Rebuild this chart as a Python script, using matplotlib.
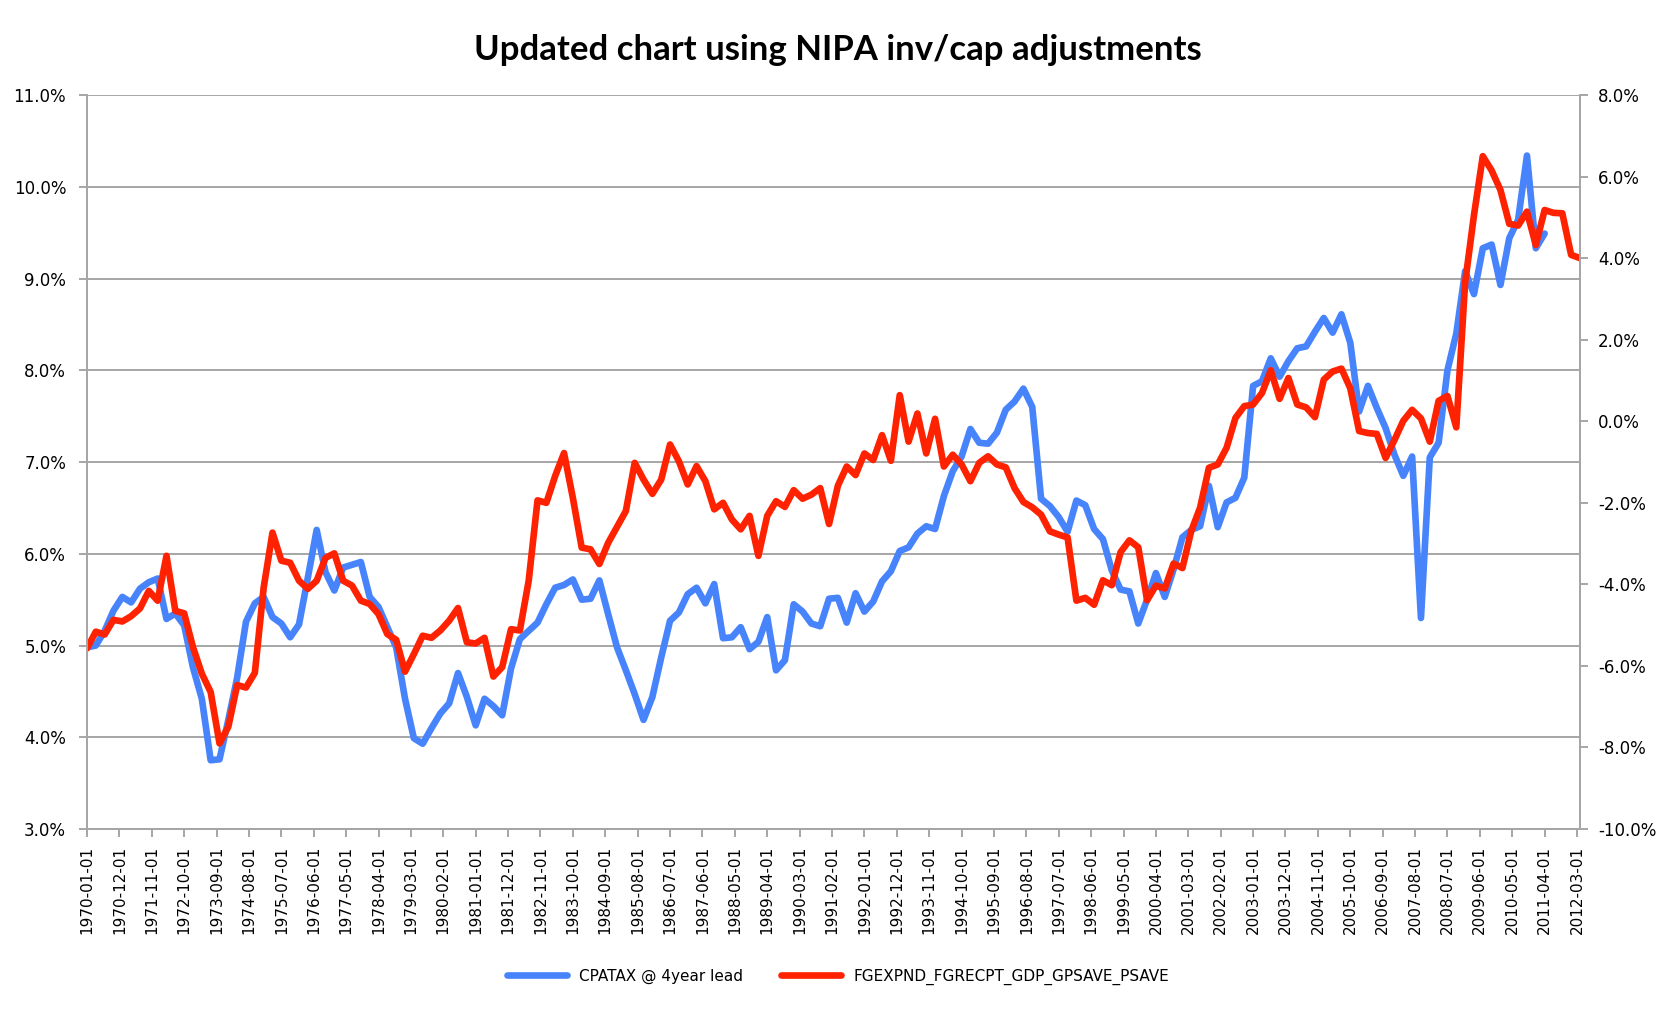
import matplotlib
matplotlib.use("Agg")
import matplotlib.pyplot as plt
import numpy as np
import pandas as pd
from matplotlib.ticker import FuncFormatter

# quarterly values, first quarter 1970-01
cpatax = [
    4.98, 5.00, 5.16, 5.38, 5.53, 5.47, 5.62, 5.69, 5.73, 5.29,
    5.35, 5.22, 4.76, 4.42, 3.75, 3.76, 4.19, 4.65, 5.26, 5.46,
    5.53, 5.31, 5.24, 5.09, 5.23, 5.74, 6.26, 5.80, 5.60, 5.85,
    5.88, 5.91, 5.53, 5.42, 5.20, 4.98, 4.42, 3.99, 3.93, 4.10,
    4.26, 4.37, 4.70, 4.44, 4.13, 4.42, 4.34, 4.24, 4.75, 5.07,
    5.16, 5.25, 5.45, 5.63, 5.66, 5.72, 5.50, 5.51, 5.71, 5.34,
    4.98, 4.73, 4.47, 4.19, 4.44, 4.87, 5.27, 5.36, 5.56, 5.63,
    5.46, 5.67, 5.08, 5.09, 5.20, 4.96, 5.04, 5.31, 4.73, 4.84,
    5.45, 5.37, 5.24, 5.21, 5.51, 5.52, 5.25, 5.57, 5.37, 5.48,
    5.70, 5.81, 6.03, 6.07, 6.22, 6.30, 6.27, 6.63, 6.90, 7.06,
    7.36, 7.21, 7.20, 7.32, 7.57, 7.66, 7.80, 7.60, 6.60, 6.52,
    6.40, 6.24, 6.58, 6.53, 6.27, 6.16, 5.82, 5.61, 5.59, 5.24,
    5.50, 5.79, 5.53, 5.83, 6.18, 6.26, 6.30, 6.74, 6.29, 6.56,
    6.61, 6.83, 7.83, 7.88, 8.13, 7.93, 8.10, 8.24, 8.26, 8.42,
    8.57, 8.41, 8.61, 8.30, 7.55, 7.83, 7.59, 7.37, 7.08, 6.85,
    7.06, 5.30, 7.05, 7.21, 8.00, 8.40, 9.08, 8.83, 9.33, 9.37,
    8.93, 9.44, 9.64, 10.34, 9.33, 9.49,
]

fgexpnd = [
    -5.57, -5.16, -5.23, -4.87, -4.91, -4.78, -4.59, -4.16, -4.40, -3.30,
    -4.65, -4.71, -5.54, -6.19, -6.64, -7.90, -7.49, -6.47, -6.53, -6.17,
    -4.08, -2.73, -3.42, -3.47, -3.91, -4.11, -3.91, -3.35, -3.24, -3.91,
    -4.03, -4.40, -4.48, -4.73, -5.22, -5.36, -6.14, -5.71, -5.26, -5.31,
    -5.13, -4.89, -4.58, -5.42, -5.45, -5.31, -6.26, -6.03, -5.10, -5.13,
    -3.91, -1.94, -2.00, -1.34, -0.78, -1.88, -3.10, -3.14, -3.50, -2.98,
    -2.59, -2.20, -1.02, -1.43, -1.78, -1.43, -0.57, -0.98, -1.55, -1.10,
    -1.47, -2.16, -2.00, -2.41, -2.65, -2.32, -3.30, -2.32, -1.96, -2.10,
    -1.69, -1.90, -1.80, -1.64, -2.52, -1.58, -1.11, -1.32, -0.79, -0.95,
    -0.34, -0.97, 0.64, -0.50, 0.19, -0.79, 0.06, -1.11, -0.82, -1.06,
    -1.47, -1.02, -0.86, -1.06, -1.13, -1.64, -1.98, -2.11, -2.29, -2.70,
    -2.78, -2.85, -4.40, -4.33, -4.50, -3.90, -4.02, -3.21, -2.92, -3.09,
    -4.39, -4.03, -4.10, -3.49, -3.60, -2.69, -2.12, -1.14, -1.06, -0.65,
    0.08, 0.37, 0.41, 0.69, 1.25, 0.55, 1.06, 0.41, 0.34, 0.10,
    1.02, 1.22, 1.29, 0.81, -0.24, -0.29, -0.31, -0.90, -0.46, 0.01,
    0.28, 0.07, -0.50, 0.50, 0.62, -0.15, 3.40, 5.05, 6.50, 6.15,
    5.67, 4.84, 4.80, 5.14, 4.32, 5.18, 5.11, 5.10, 4.08, 4.00,
]

tick_dates = pd.date_range("1970-01-01", periods=47, freq="11MS")
tick_labels = [d.strftime("%Y-%m-%d") for d in tick_dates]

BLUE = "#4784FC"
RED = "#FF2200"
GRID = "#A6A6A6"


def pct(v, _pos):
    return f"{v:.1f}%"


def main() -> None:
    fig = plt.figure(figsize=(16.76, 10.14), dpi=100)
    ax = fig.add_axes([0.0519, 0.1824, 0.8908, 0.7239])
    ax2 = ax.twinx()

    # months since 1970-01
    x_blue = np.arange(len(cpatax)) * 3
    x_red = np.arange(len(fgexpnd)) * 3

    l1, = ax.plot(x_blue, cpatax, color=BLUE, lw=4.8, solid_joinstyle="round",
                  solid_capstyle="round", label="CPATAX @ 4year lead")
    l2, = ax2.plot(x_red, fgexpnd, color=RED, lw=4.8, solid_joinstyle="round",
                   solid_capstyle="round", label="FGEXPND_FGRECPT_GDP_GPSAVE_PSAVE")

    ax.set_xlim(0, 507)
    ax.set_ylim(3, 11)
    ax.set_yticks(np.arange(3, 11.01, 1))
    ax.yaxis.set_major_formatter(FuncFormatter(pct))
    ax2.set_ylim(-10, 8)
    ax2.set_yticks(np.arange(-10, 8.01, 2))
    ax2.yaxis.set_major_formatter(FuncFormatter(pct))

    ax.set_xticks(np.arange(0, 507, 11))
    ax.set_xticklabels(tick_labels, rotation=90)

    ax.grid(axis="y", color=GRID, lw=1.4)
    ax.set_axisbelow(True)

    for a in (ax, ax2):
        a.spines["top"].set_visible(False)
        for s in ("left", "right", "bottom"):
            a.spines[s].set_color(GRID)
            a.spines[s].set_linewidth(1.4)
        a.tick_params(colors=GRID, labelcolor="black", labelsize=11,
                      length=6, width=1.4)
    ax.tick_params(axis="y", pad=9, labelsize=12)
    ax2.tick_params(axis="y", pad=7, labelsize=12)
    ax.tick_params(axis="x", pad=6)

    fig.text(0.5, 0.951, "Updated chart using NIPA inv/cap adjustments",
             ha="center", va="center", fontsize=25, fontweight="bold",
             family=["Lato", "DejaVu Sans"])

    fig.legend([l1, l2], [l1.get_label(), l2.get_label()], loc="center",
               bbox_to_anchor=(0.5, 0.037), ncol=2, frameon=False,
               fontsize=11, handlelength=3.9, columnspacing=2.5)

    fig.savefig("out.png", dpi=100)


if __name__ == "__main__":
    main()
